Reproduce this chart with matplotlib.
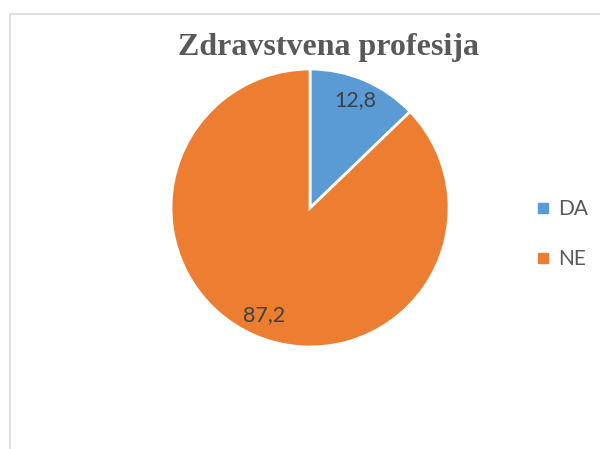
import matplotlib
matplotlib.use("Agg")
import matplotlib.pyplot as plt
from matplotlib.patches import Rectangle
from matplotlib.lines import Line2D

categories = ["DA", "NE"]
values = [12.8, 87.2]
colors = ["#5B9BD5", "#ED7D31"]
title = "Zdravstvena profesija"

fig = plt.figure(figsize=(6.0, 4.49), dpi=100)
fig.patch.set_facecolor("white")

# chart border (extends beyond right/bottom edge)
fig.patches.append(Rectangle((9.5/600, -0.1), 1.2, 1 - 13.5/449 + 0.1,
                             transform=fig.transFigure, fill=False,
                             edgecolor="#D9D9D9", linewidth=1.2))

ax = fig.add_axes([171/600, (449-347)/449, 278/600, 278/449])

def fmt(p):
    return f"{p:.1f}".replace(".", ",")

wedges, texts, autotexts = ax.pie(values, colors=colors, startangle=90, counterclock=False,
                                  autopct=fmt, pctdistance=0.84,
                                  wedgeprops=dict(edgecolor="white", linewidth=2),
                                  textprops=dict(family="Lato", fontsize=15.5, color="#404040"))
ax.set_xlim(-1, 1)
ax.set_ylim(-1, 1)
ax.set_aspect("equal")

fig.text(328/600, 1 - 47/449, title, ha="center", va="center",
         family="Liberation Serif", fontweight="bold", fontsize=23, color="#595959")

handles = [Line2D([], [], marker="s", linestyle="none", markersize=7,
                  markerfacecolor=c, markeredgecolor=c) for c in colors]
fig.legend(handles, categories, loc="center left", bbox_to_anchor=(514/600, 1 - 234/449),
           frameon=False, prop=dict(family="Lato", size=15), labelcolor="#595959",
           handletextpad=0.2, labelspacing=1.45, handlelength=1.0)

fig.savefig("out.png", dpi=100)
